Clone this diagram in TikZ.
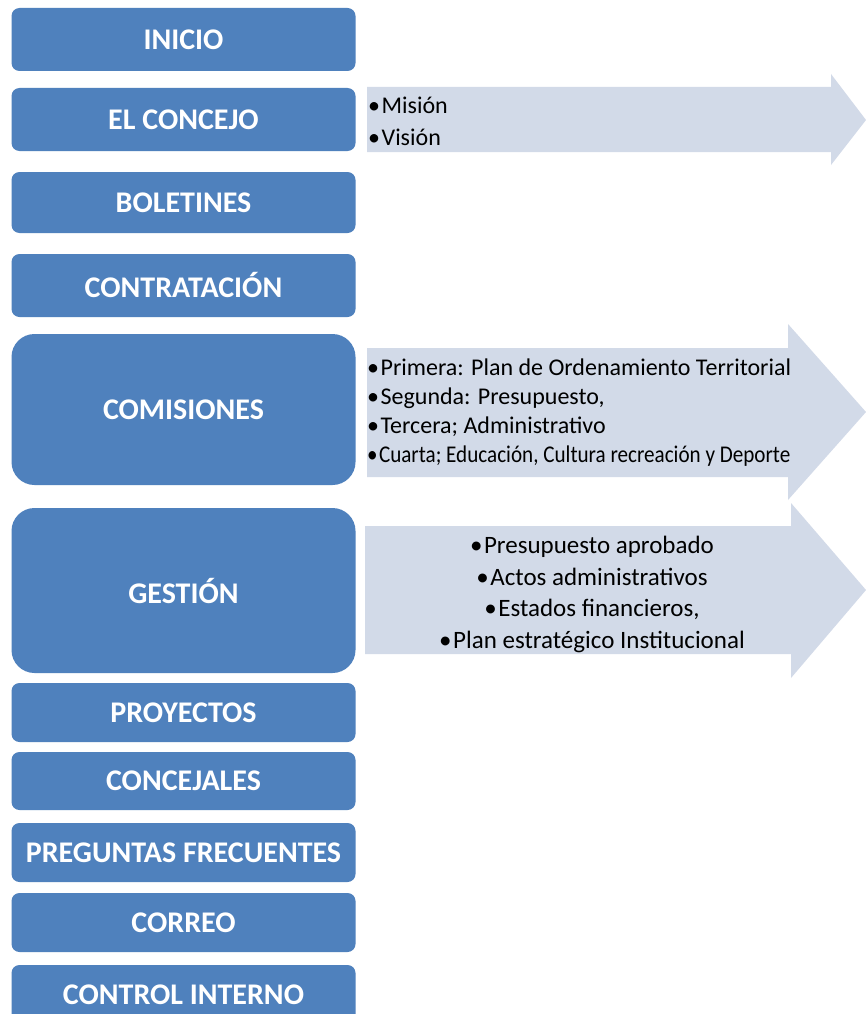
\documentclass[tikz,border=0pt]{standalone}
\usepackage{fontspec}
\setmainfont{Carlito}
\usepackage{graphicx}
\definecolor{boxblue}{HTML}{4F81BD}
\definecolor{arrowfill}{HTML}{D2DAE8}
\newcommand{\bul}{•\hspace{1.5pt}}
\begin{document}
\begin{tikzpicture}[x=1pt,y=-1pt,
  menu/.style={fill=boxblue, rounded corners=8pt, text=white, inner sep=0pt,
    minimum width=344pt, font=\bfseries\fontsize{30}{32}\selectfont},
  bigmenu/.style={menu, rounded corners=23pt},
  arrowshape/.style={fill=arrowfill, draw=none},
  listtext/.style={inner sep=0pt, text=black}
]
\useasboundingbox[fill=white] (0,0) rectangle (866,1014);
% menu boxes
\node[menu, minimum height=63pt] (inicio) at (183.5,39.5) {INICIO};
\node[menu, minimum height=63pt] (concejo) at (183.5,119.5) {EL CONCEJO};
\node[menu, minimum height=61pt] (boletines) at (183.5,202.5) {BOLETINES};
\node[menu, minimum height=63pt] (contratacion) at (183.5,285.5) {CONTRATACIÓN};
\node[bigmenu, minimum height=151pt] (comisiones) at (183.5,409.5) {COMISIONES};
\node[bigmenu, minimum height=165pt] (gestion) at (183.5,590.5) {GESTIÓN};
\node[menu, minimum height=59pt] (proyectos) at (183.5,712.5) {PROYECTOS};
\node[menu, minimum height=58pt] (concejales) at (183.5,781) {CONCEJALES};
\node[menu, minimum height=59pt] (preguntas) at (183.5,852.5) {PREGUNTAS FRECUENTES};
\node[menu, minimum height=59pt] (correo) at (183.5,922.5) {CORREO};
\node[menu, minimum height=59pt] (control) at (183.5,994.5) {CONTROL INTERNO};
% arrows
\fill[arrowshape] (367,87) -- (831,87) -- (831,74) -- (866,120) -- (831,165) -- (831,152) -- (367,152) -- cycle;
\fill[arrowshape] (367,348) -- (788,348) -- (788,324) -- (866,412) -- (788,500) -- (788,477) -- (367,477) -- cycle;
\fill[arrowshape] (365,526) -- (791,526) -- (791,503) -- (866,590) -- (791,678) -- (791,654) -- (365,654) -- cycle;
% arrow texts
\node[listtext, anchor=west, align=left, font=\fontsize{24}{32}\selectfont] (concejoList) at (368,121) {\bul Misión\\\bul Visión};
\node[listtext, anchor=west, align=left, font=\fontsize{24}{29}\selectfont] (comisionesList) at (367,412.5)
  {\bul Primera: Plan de Ordenamiento Territorial\\
   \bul Segunda: Presupuesto,\\
   \bul Tercera; Administrativo\\
   \scalebox{0.88}[1]{\bul Cuarta; Educación, Cultura recreación y Deporte}};
\node[listtext, align=center, font=\fontsize{25}{31.5}\selectfont] (gestionList) at (592,594.5)
  {\bul Presupuesto aprobado\\\bul Actos administrativos\\\bul Estados financieros,\\\bul Plan estratégico Institucional};
\end{tikzpicture}
\end{document}
